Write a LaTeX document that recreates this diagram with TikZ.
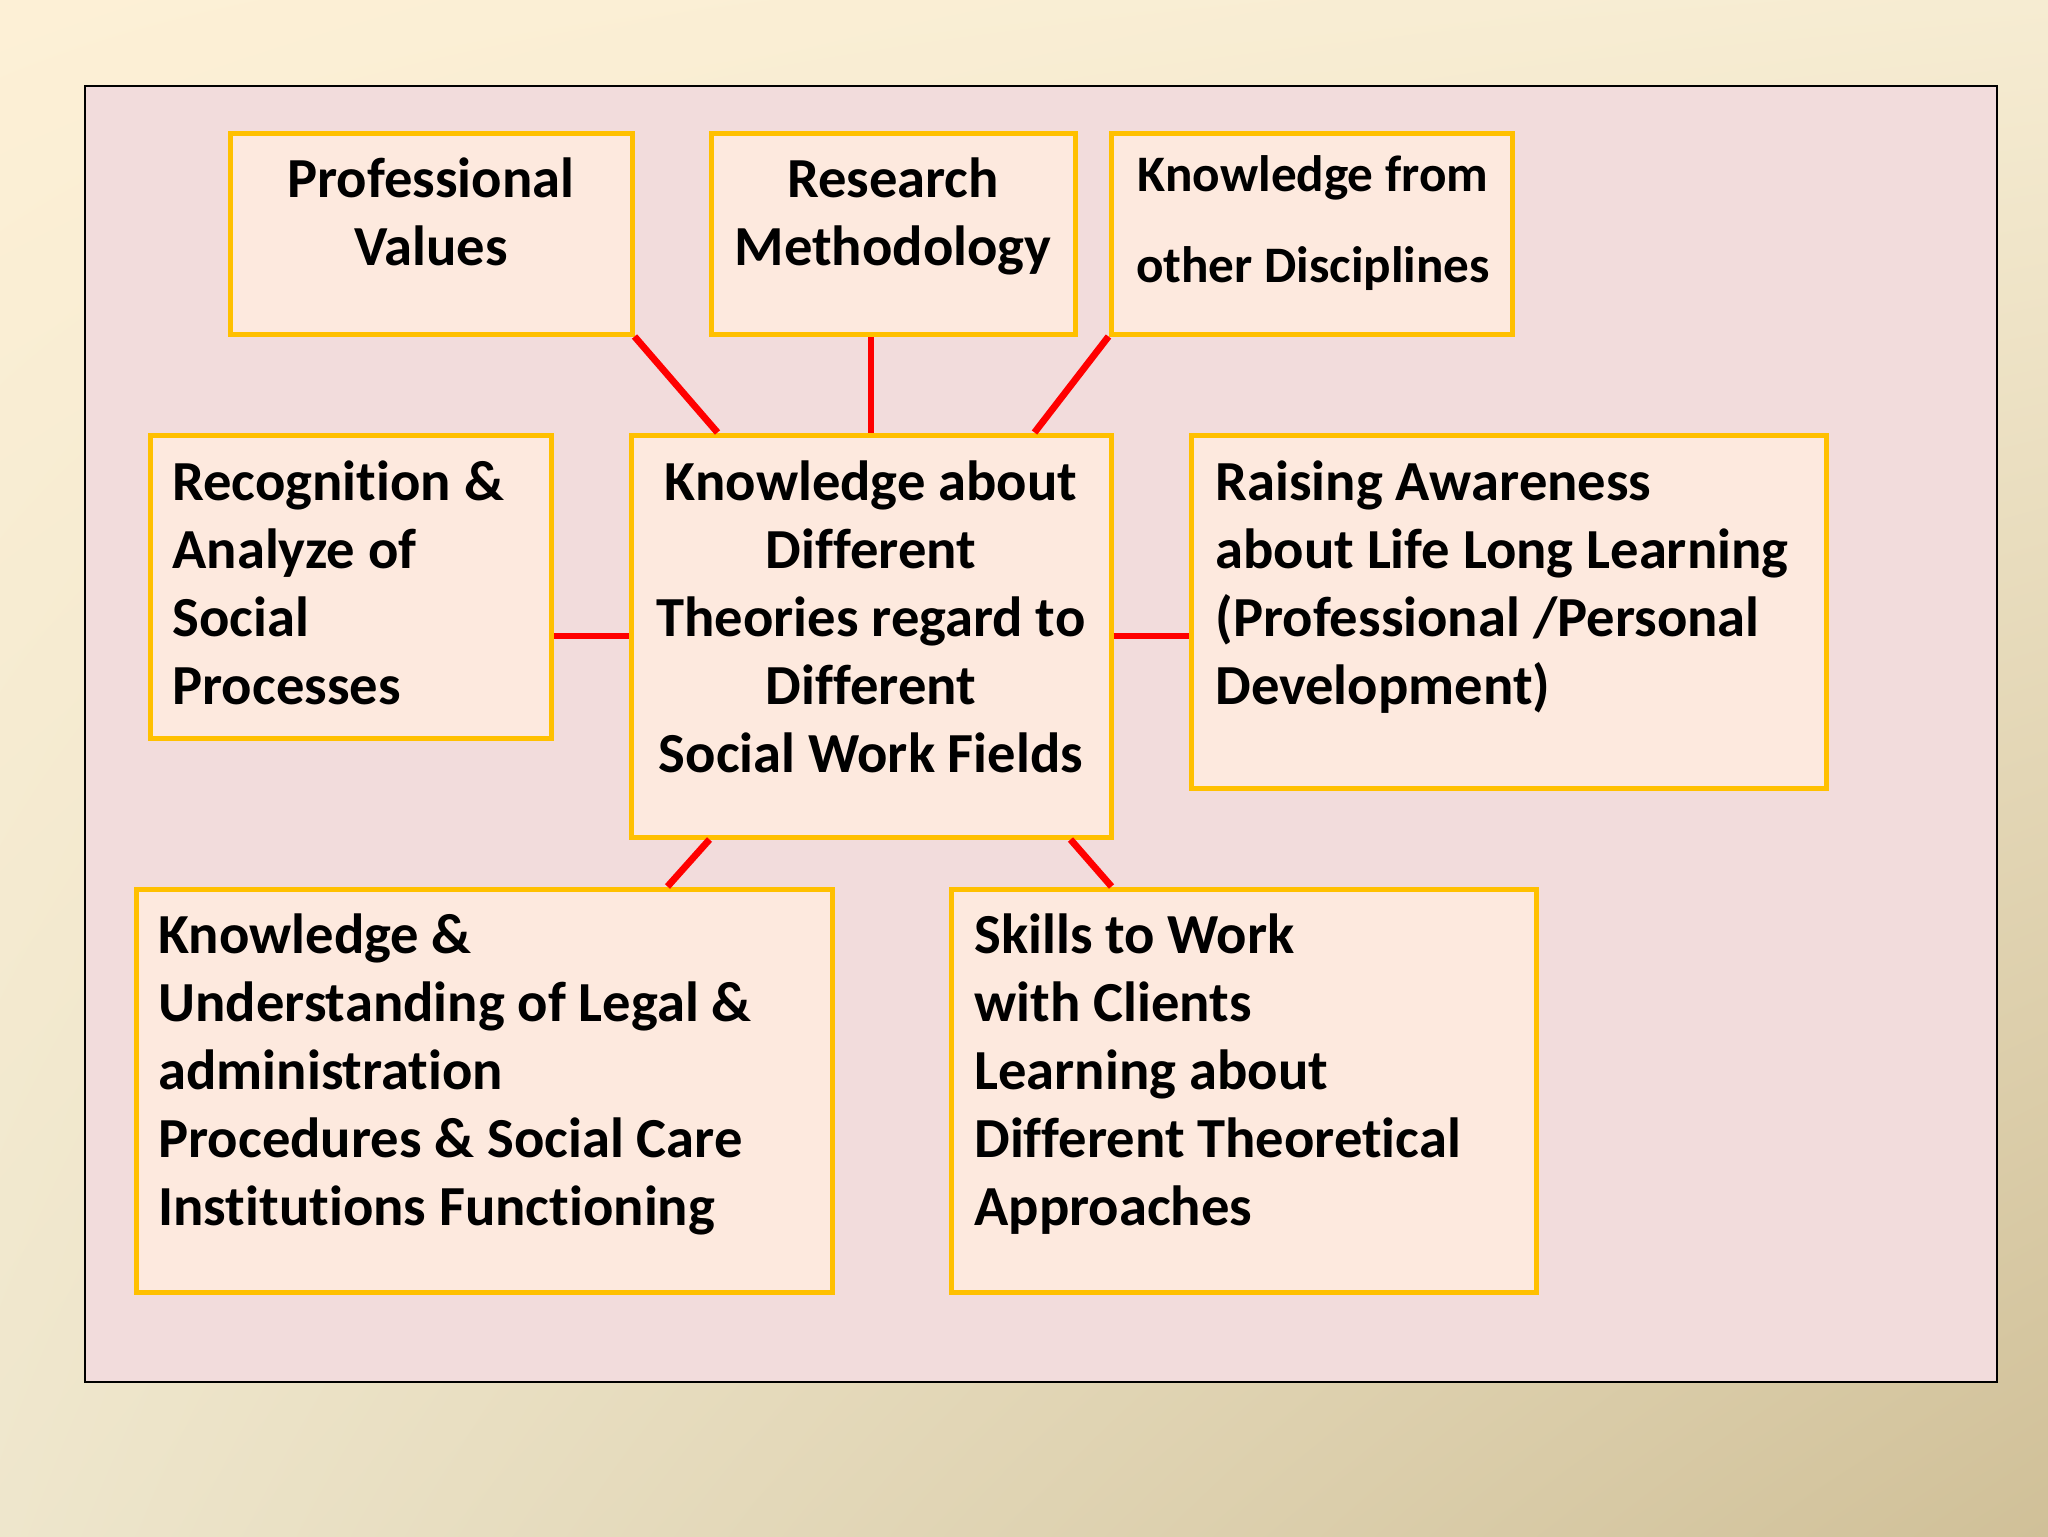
\documentclass[tikz,border=0pt]{standalone}
\usepackage{fontspec}
\usetikzlibrary{shadings}
\setmainfont{Carlito}[RawFeature={-liga}]
\definecolor{bgA}{HTML}{FDF0D6}
\definecolor{bgB}{HTML}{F6ECD2}
\definecolor{bgC}{HTML}{EEE6CC}
\definecolor{bgD}{HTML}{D0C098}
\definecolor{panel}{HTML}{F2DCDC}
\definecolor{boxfill}{HTML}{FDE9DE}
\definecolor{boxline}{HTML}{FFC000}
\definecolor{conn}{HTML}{FF0000}
\newcommand{\fl}{\rule{0pt}{24pt}}
\begin{document}
\begin{tikzpicture}[x=0.5pt,y=-0.5pt,
  box/.style 2 args={draw=boxline, line width=2.5pt, fill=boxfill, rectangle, inner sep=0pt,
     minimum width=#1*0.5pt, minimum height=#2*0.5pt},
  txt/.style={inner sep=0pt, font=\fontsize{28.3pt}{34pt}\selectfont\bfseries},
  txtc/.style={txt, align=center, anchor=north},
  txtl/.style={txt, align=left, anchor=north west},
  link/.style={draw=conn, line width=3.4pt}]
\useasboundingbox (0,0) rectangle (2048,1536);
\shade[upper left=bgA, upper right=bgB, lower left=bgC, lower right=bgD] (0,0) rectangle (2048,1536);
\draw[fill=panel, line width=1.3pt, draw=black] (85,86) rectangle (1997,1382);
\node[box={402}{201}] (pv) at (431,233.5) {};
\node[box={364}{201}] (rm) at (893,233.5) {};
\node[box={401}{201}] (kf) at (1311.5,233.5) {};
\node[box={401}{303}] (rec) at (350.5,586.5) {};
\node[box={480}{402}] (c) at (871,636) {};
\node[box={635}{353}] (ra) at (1508.5,611.5) {};
\node[box={696}{403}] (ku) at (484,1090.5) {};
\node[box={585}{403}] (sk) at (1243.5,1090.5) {};
\draw[link] (pv.south east) -- ([xshift=44.5pt]c.north west);
\draw[link] (c.north) -- (c.north |- rm.south);
\draw[link] (kf.south west) -- ([xshift=-39.5pt]c.north east);
\draw[link] (c.west) -- (c.west -| rec.east);
\draw[link] (c.east) -- (c.east -| ra.west);
\draw[link] ([xshift=40.5pt]c.south west) -- ([xshift=267pt]ku.north west);
\draw[link] ([xshift=-21.5pt]c.south east) -- ([xshift=81.5pt]sk.north west);
\node[txtc] (tpv) at (431,149) {\fl Professional\\Values};
\node[txtc] (trm) at (893,149) {\fl Research\\Methodology};
\node[txtc, font=\fontsize{25.6pt}{45.5pt}\selectfont\bfseries] (tkf) at (1313,143) {\fl Knowledge from\\other Disciplines};
\node[txtl] (trec) at (172,452) {\fl Recognition \&\\Analyze of\\Social\\Processes};
\node[txtc] (tc) at (871,452) {\fl Knowledge about\\Different\\Theories regard to\\Different\\Social Work Fields};
\node[txtl] (tra) at (1215,452) {\fl Raising Awareness\\about Life Long Learning\\(Professional /Personal\\Development)};
\node[txtl] (tku) at (158,905) {\fl Knowledge \&\\Understanding of Legal \&\\administration\\Procedures \& Social Care\\Institutions Functioning};
\node[txtl] (tsk) at (974,905) {\fl Skills to Work\\with Clients\\Learning about\\Different Theoretical\\Approaches};
\end{tikzpicture}
\end{document}
